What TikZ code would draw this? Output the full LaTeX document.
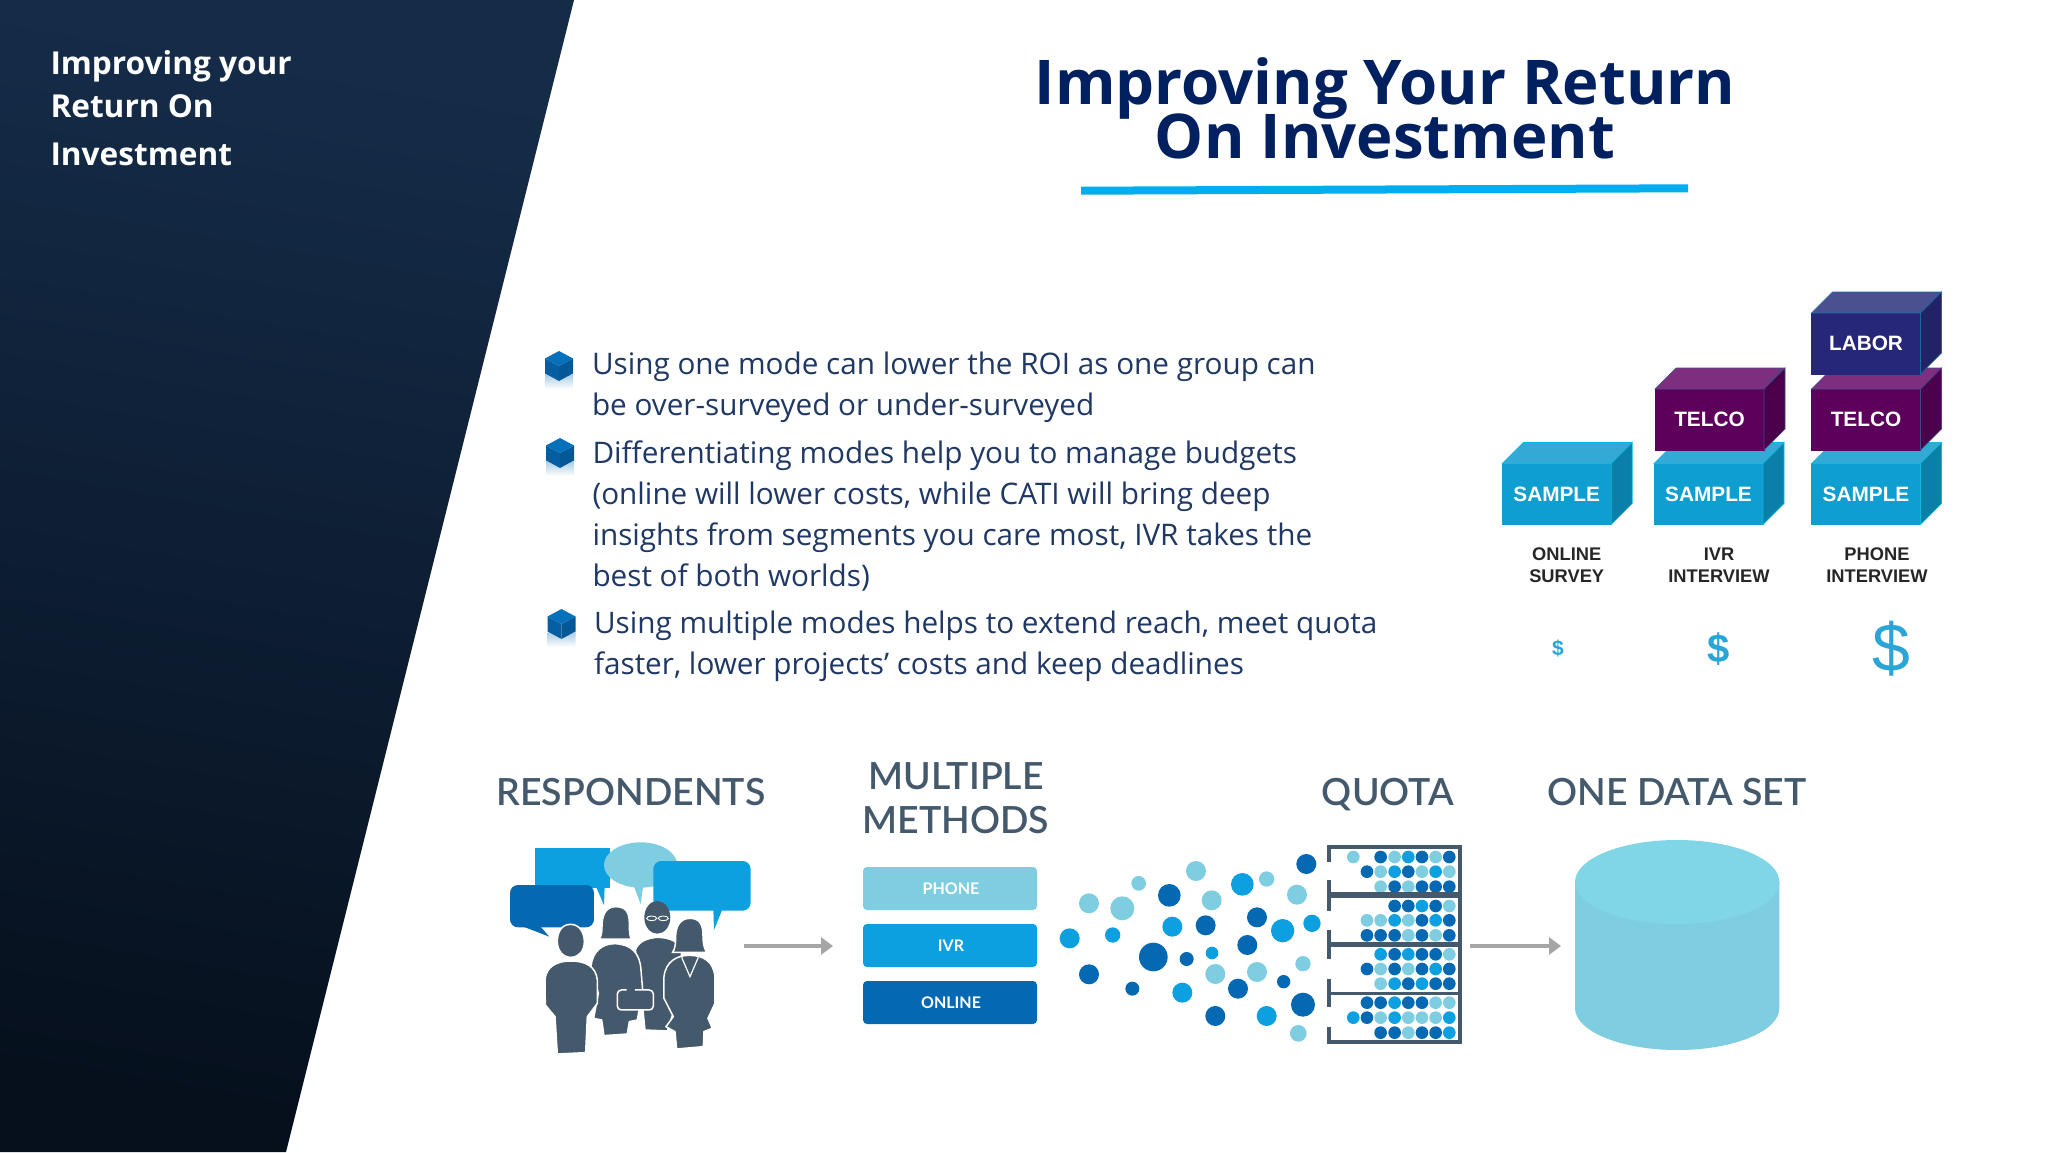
\documentclass[tikz,border=0pt]{standalone}
\usepackage{fontspec}
\setmainfont{Open Sans}
\newfontfamily\latofont{Lato}
\newfontfamily\latomed{Lato Semibold}
\newfontfamily\arialfont{Liberation Sans}
\usetikzlibrary{arrows.meta}
\definecolor{dotL}{HTML}{7FCDE0}
\definecolor{dotM}{HTML}{0CA0E0}
\definecolor{dotD}{HTML}{0568B3}
\definecolor{slate}{HTML}{44596B}
\definecolor{navy}{HTML}{002060}
\definecolor{bodytext}{HTML}{1F3864}
\definecolor{rulecyan}{HTML}{00AEEF}
\definecolor{panelA}{HTML}{152C49}
\definecolor{panelB}{HTML}{0F233B}
\definecolor{panelC}{HTML}{06101D}
\definecolor{dollarblue}{HTML}{2AA5D6}
\definecolor{drumtop}{HTML}{80D6E6}
\newcommand{\fsize}[1]{\fontsize{#1}{#1}\selectfont}
\tikzset{
  plain/.style={inner sep=0pt,outer sep=0pt},
  bullettext/.style={plain,anchor=west,align=left,text=bodytext,font=\fontsize{29.7}{40.8}\selectfont},
  boxlabel/.style={plain,minimum height=61pt,text=white,font=\arialfont\bfseries\fsize{20.8},draw=#1},
  caption/.style={plain,align=center,text=black!85,font=\arialfont\bfseries\fontsize{18.3}{22.5}\selectfont},
  dollar/.style={plain,text=dollarblue,font=\arialfont\fsize{#1}},
  header/.style={plain,anchor=base,text=slate,font=\latomed\fsize{37.4}},
  sideline/.style={plain,anchor=base west,text=white,font=\bfseries\fsize{31.6}},
  titleline/.style={plain,anchor=base,text=navy,font=\bfseries\fsize{61.7}},
  methodbox/.style={plain,minimum width=174pt,minimum height=43pt,rounded corners=4pt,text=white,font=\latofont\bfseries\fsize{16}},
  flowarrow/.style={draw=black!35,line width=4.5pt,-{Triangle[length=12pt,width=17pt]}},
  person/.style={fill=slate,draw=white,line width=1.5pt},
}
\begin{document}
\begin{tikzpicture}[x=1pt,y=-1pt]
\useasboundingbox (0,0) rectangle (2048,1152);
\fill[white] (0,0) rectangle (2048,1152);
% left panel
\shade[top color=panelA,middle color=panelB,bottom color=panelC,shading angle=-10]
  (0,0) -- (574,0) -- (286,1152) -- (0,1152) -- cycle;
\node[sideline] (side1) at (50.5,74) {Improving your};
\node[sideline] (side2) at (50.5,117) {Return On};
\node[sideline] (side3) at (50.5,165) {Investment};
% title
\node[titleline] (title1) at (1385,104) {Improving Your Return};
\node[titleline] (title2) at (1385,158.5) {On Investment};
\fill[rulecyan] (1081,186.7) -- (1688,184.3) -- (1688,192.3) -- (1081,194.7) -- cycle;
% bullets
\foreach \bx/\by in {559/366,560/453,561.5/624} {
  \begin{scope}[shift={(\bx,\by)}]
    \shade[top color=dotD!35!white,bottom color=white] (-14,8) -- (0,15) -- (14,8) -- (14,23) -- (-14,23) -- cycle;
    \fill[dotD!90!black] (-14,-7.5) -- (0,0) -- (0,15) -- (-14,7.5) -- cycle;
    \fill[dotD!85!black] (14,-7.5) -- (0,0) -- (0,15) -- (14,7.5) -- cycle;
    \fill[dotD!85!dotM] (-14,-7.5) -- (0,-15) -- (14,-7.5) -- (0,0) -- cycle;
  \end{scope}
}
\node[bullettext] (item1) at (592,387.5) {Using one mode can lower the ROI as one group can\\be over-surveyed or under-surveyed};
\node[bullettext] (item2) at (592.5,516) {Differentiating modes help you to manage budgets\\(online will lower costs, while CATI will bring deep\\insights from segments you care most, IVR takes the\\best of both worlds)};
\node[bullettext] (item3) at (594,646) {Using multiple modes helps to extend reach, meet quota\\faster, lower projects’ costs and keep deadlines};
% stacked cubes
\foreach \nm/\cx/\cy/\front/\top/\side/\txt in {
  s1/1556.7/494/0E9ECF/35A9D6/0A80A8/SAMPLE,
  s2/1708.5/494/0E9ECF/35A9D6/0A80A8/SAMPLE,
  s3/1866/494/0E9ECF/35A9D6/0A80A8/SAMPLE,
  t2/1709.5/419.5/5C005C/7E2E7E/4A004A/TELCO,
  t3/1866/419.5/5C005C/7E2E7E/4A004A/TELCO,
  l3/1866/343.5/27277A/4A5090/222266/LABOR} {
  \definecolor{fr}{HTML}{\front}
  \definecolor{tp}{HTML}{\top}
  \definecolor{sd}{HTML}{\side}
  \node[boxlabel=fr,minimum width=109pt,fill=fr] (\nm) at (\cx,\cy) {\txt};
  \fill[tp,draw=fr!70!cyan,line width=.6pt] (\nm.north west) -- ++(21,-21) -- ++(109,0) -- (\nm.north east) -- cycle;
  \fill[sd,draw=fr!70!cyan,line width=.6pt] (\nm.north east) -- ++(21,-21) -- ++(0,61) -- (\nm.south east) -- cycle;
}
\node[caption] (c1) at (1566.7,565) {ONLINE\\SURVEY};
\node[caption] (c2) at (1719,565) {IVR\\INTERVIEW};
\node[caption] (c3) at (1877,565) {PHONE\\INTERVIEW};
\node[dollar=21,font=\arialfont\bfseries\fsize{21}] (d1) at (1558,648) {\$};
\node[dollar=40,font=\arialfont\bfseries\fsize{40}] (d2) at (1719,649) {\$};
\node[dollar=68] (d3) at (1891,649) {\$};
% bottom row headers
\node[header] (hresp) at (631,805) {RESPONDENTS};
\node[header] (hmul) at (956,789.5) {MULTIPLE};
\node[header] (hmet) at (956,833.5) {METHODS};
\node[header] (hquo) at (1388,805) {QUOTA};
\node[header] (hone) at (1677,805) {ONE DATA SET};
% speech bubbles and people
\begin{scope}[shift={(500,830)},x=.3333pt,y=-.3333pt]
  \fill[dotM] (105,55) rectangle (330,175);
  \fill[dotM] (288,170) -- (312,225) -- (314,170) -- cycle;
  \fill[dotL] (422,105) ellipse[x radius=110,y radius=68];
  \fill[dotL] (400,165) -- (422,222) -- (430,165) -- cycle;
  \fill[dotD,rounded corners=8pt] (30,165) rectangle (282,292);
  \fill[dotD] (65,288) -- (148,320) -- (120,288) -- cycle;
  \fill[dotM,rounded corners=8pt] (460,93) rectangle (752,242);
  \fill[dotM] (640,236) -- (642,300) -- (668,236) -- cycle;
  % man with glasses
  \fill[slate] (472,262) ellipse[x radius=39,y radius=49];
  \draw[white,line width=.9pt] (455,265) ellipse[x radius=15,y radius=7] (490,265) ellipse[x radius=15,y radius=7];
  \path[person] (406,360) .. controls (415,335) and (440,325) .. (470,322) .. controls (510,322) and (540,335) .. (545,365) -- (535,500) -- (502,603) -- (435,600) -- (425,500) -- cycle;
  % first woman
  \path[person] (347,230) .. controls (312,230) and (306,265) .. (306,290) .. controls (306,310) and (303,320) .. (298,327) -- (394,327) .. controls (388,315) and (388,300) .. (388,280) .. controls (388,250) and (380,230) .. (347,230) -- cycle;
  \path[person] (273,410) .. controls (278,360) and (310,341) .. (345,341) .. controls (395,343) and (420,370) .. (423,420) -- (428,480) -- (412,570) -- (388,575) -- (382,612) -- (312,617) -- (305,570) -- (281,565) -- (295,490) -- cycle;
  % man in front
  \path[person] (212,283) .. controls (182,283) and (172,310) .. (172,335) .. controls (172,362) and (190,382) .. (212,382) .. controls (237,382) and (253,362) .. (253,335) .. controls (253,310) and (240,283) .. (212,283) -- cycle;
  \path[person] (135,450) .. controls (138,410) and (170,393) .. (212,393) .. controls (258,393) and (288,410) .. (292,450) -- (292,520) -- (262,560) -- (257,668) -- (172,672) -- (165,560) -- (136,525) -- cycle;
  % second woman
  \path[person] (570,265) .. controls (537,265) and (527,295) .. (527,320) .. controls (527,345) and (525,355) .. (518,367) -- (620,367) .. controls (610,350) and (609,335) .. (609,315) .. controls (609,290) and (603,265) .. (570,265) -- cycle;
  \path[person] (492,440) .. controls (497,395) and (530,376) .. (568,376) .. controls (612,376) and (640,395) .. (645,440) -- (645,520) -- (624,565) -- (637,595) -- (612,605) -- (610,650) -- (530,657) -- (525,605) -- (498,590) -- (520,560) -- (492,505) -- cycle;
  \draw[white,line width=1.2pt] (545,382) -- (570,440) -- (595,382);
  \fill[slate] (562,383) -- (578,383) -- (575,420) -- (570,430) -- (565,420) -- cycle;
  % briefcase
  \fill[slate,rounded corners=4pt] (352,480) rectangle (460,540);
  \draw[white,line width=1.5pt,rounded corners=4pt] (380,480) -- (352,480) -- (352,540) -- (460,540) -- (460,480) -- (405,480);
\end{scope}
% method boxes
\node[methodbox,fill=dotL] (phone) at (950,888.5) {\hspace{2pt}PHONE};
\node[methodbox,fill=dotM] (ivr) at (950,945.5) {\hspace{2pt}IVR};
\node[methodbox,fill=dotD] (online) at (950,1002.5) {\hspace{2pt}ONLINE};
% arrows
\coordinate (respout) at (744,946);
\coordinate (methin) at (833,946);
\coordinate (quotaout) at (1470,946);
\coordinate (datain) at (1561,946);
\draw[flowarrow] (respout) -- (methin);
\draw[flowarrow] (quotaout) -- (datain);
% quota dots and rack
\begin{scope}[shift={(1040,820)},x=.3333pt,y=-.3333pt]
  \foreach \px/\py/\pr/\pc in {147/250/30/L,247/265/36/L,296/190/22/L,388/226/34/D,468/153/30/L,515/241/30/L,607/193/34/M,680/177/23/L,799/132/30/D,771/224/30/L,
    89/355/30/M,218/345/23/M,397/320/30/M,497/316/30/D,651/292/30/D,728/332/35/M,816/310/26/M,
    340/411/43/D,440/417/21/D,516/399/19/M,622/375/30/D,147/463/30/D,277/506/21/D,526/462/30/L,651/456/30/L,789/431/23/L,594/506/30/D,731/485/20/D,427/518/30/M,789/554/36/D,526/588/30/D,680/588/30/M,775/640/25/L} {
    \fill[dot\pc] (\px,\py) circle[radius=\pr];
  }
  \foreach \py/\row in {111/{940/L,1022/D,1064/L,1105/M,1146/D,1187/L,1228/D},
    155/{981/D,1022/L,1064/M,1105/D,1146/L,1187/M,1228/L},
    200/{1022/L,1064/D,1105/L,1146/D,1187/D,1228/D},
    258/{1064/D,1105/D,1146/M,1187/D,1228/L},
    301/{981/L,1022/L,1064/M,1105/L,1146/D,1187/M,1228/D},
    346/{981/D,1022/D,1064/D,1105/L,1146/D,1187/L,1228/D},
    403/{1022/M,1064/D,1105/M,1146/D,1187/D,1228/L},
    447/{981/D,1022/L,1064/D,1105/L,1146/D,1187/M,1228/D},
    491/{1022/L,1064/M,1105/D,1146/M,1187/D,1228/D},
    548/{981/D,1022/D,1064/M,1105/D,1146/D,1187/L,1228/L},
    593/{940/M,981/D,1022/L,1064/M,1105/L,1146/L,1187/L,1228/M},
    638/{1022/D,1064/D,1105/L,1146/D,1187/D,1228/M}} {
    \foreach \px/\pc in \row {
      \fill[dot\pc] (\px,\py) circle[radius=19];
    }
  }
  \draw[slate,line width=3.8pt] (868,125) -- (868,80) -- (1259,80) -- (1259,665) -- (868,665) -- (868,622);
  \foreach \ya/\yb in {180/272,330/418,476/560} {
    \draw[slate,line width=3.8pt] (868,\ya) -- (868,\yb);
  }
  \draw[slate,line width=6pt] (868,225) -- (1259,225);
  \draw[slate,line width=4.6pt] (868,374) -- (1259,374);
  \draw[slate,line width=2.8pt] (868,521) -- (1259,521);
\end{scope}
% data cylinder
\fill[dotL] (1575,882) -- (1575,1008) arc[start angle=180,end angle=360,x radius=102.2,y radius=-42] -- (1779.4,882) -- cycle;
\fill[drumtop] (1677.2,882) ellipse[x radius=102.2,y radius=42];
\end{tikzpicture}
\end{document}
